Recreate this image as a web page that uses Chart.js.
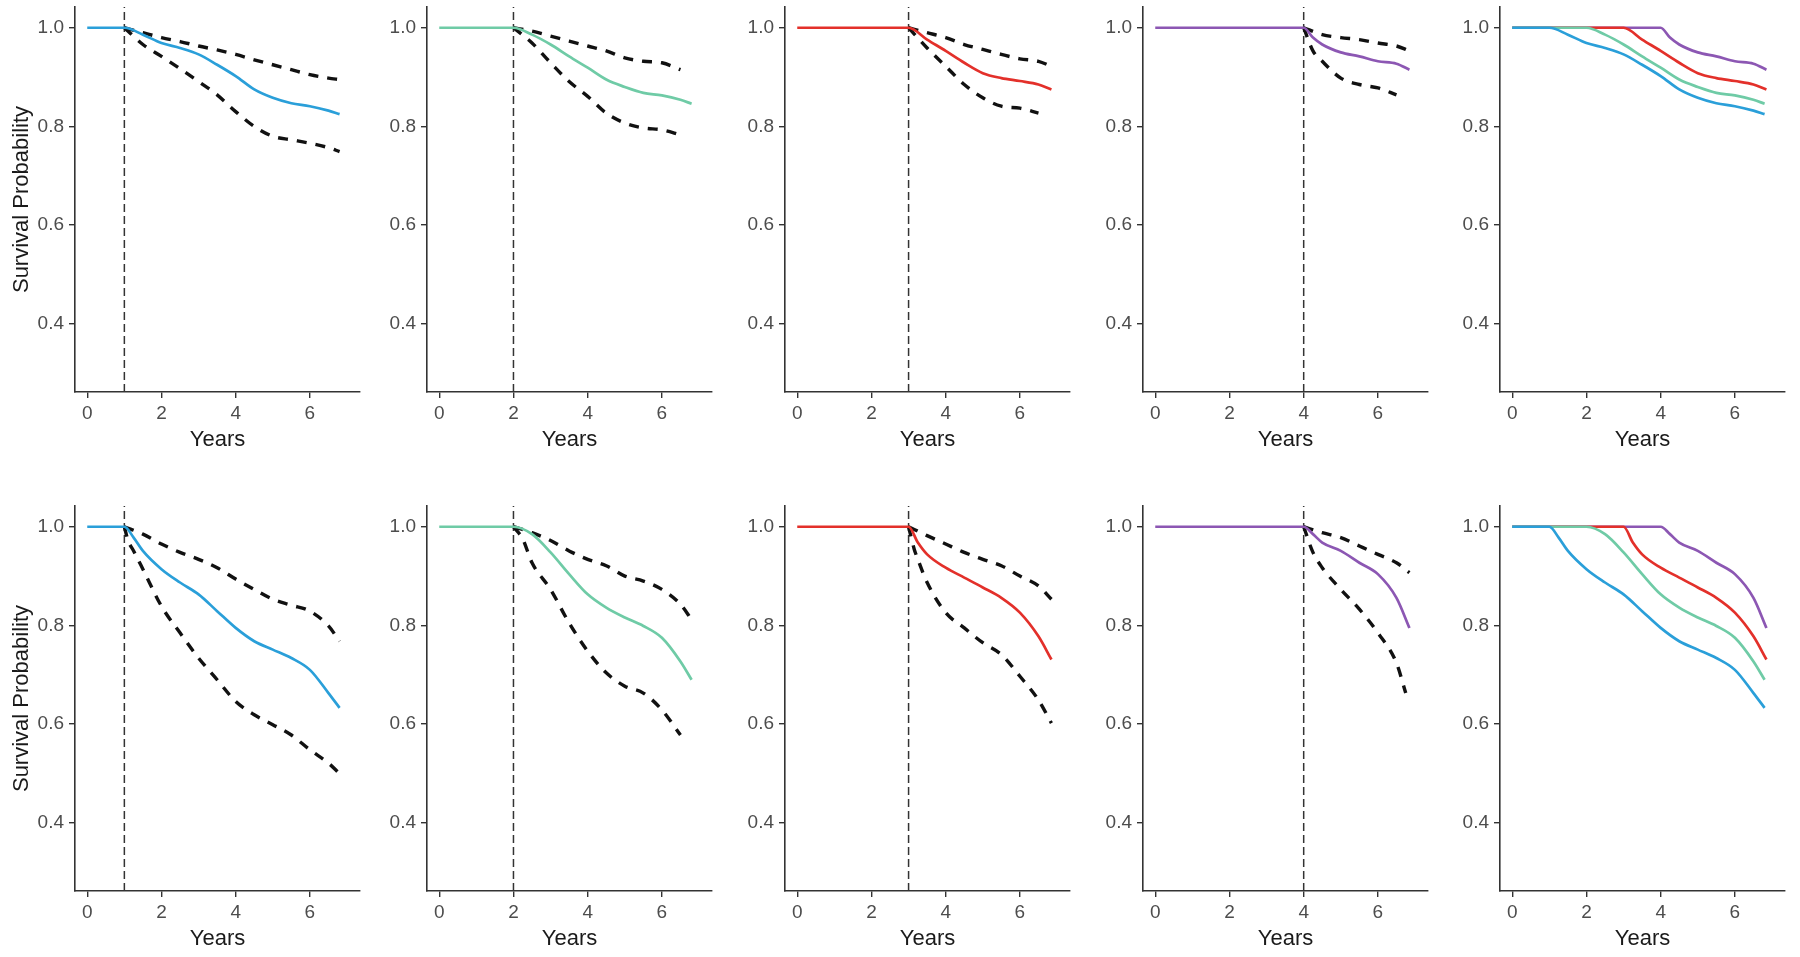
<!DOCTYPE html>
<html>
<head>
<meta charset="utf-8">
<script src="https://cdn.jsdelivr.net/npm/chart.js@4.4.1/dist/chart.umd.min.js"></script>
<style>
  body { margin: 0; background: #fff; width: 1800px; height: 957px; position: relative; overflow: hidden; }
  canvas { position: absolute; }
</style>
</head>
<body>
<script>
const xTicks = [0, 2, 4, 6]
const yTicks = [0.4, 0.6, 0.8, 1.0]
const landmarks = [1, 2, 3, 4]
const curveColors = ['#2A9FD9', '#6FCBA6', '#E3302A', '#8C57B3']

// ---- top row (landmark 1..4) ----
const topT1 = [0, 1, 1.5, 2, 2.5, 3, 3.5, 4, 4.5, 5, 5.5, 6, 6.5, 6.8]
const topS1 = [1, 1, 0.986, 0.969, 0.959, 0.946, 0.925, 0.902, 0.875, 0.858, 0.847, 0.841, 0.832, 0.825]
const topCiT1 = [1, 1.5, 2, 2.5, 3, 3.5, 4, 4.5, 5, 5.5, 6, 6.5, 6.8]
const topUp1 = [1, 0.99, 0.98, 0.972, 0.963, 0.955, 0.946, 0.935, 0.925, 0.915, 0.905, 0.898, 0.895]
const topLo1 = [1, 0.966, 0.942, 0.917, 0.891, 0.864, 0.83, 0.80, 0.78, 0.773, 0.766, 0.757, 0.749]

const topT2 = [0, 2, 2.5, 3, 3.5, 4, 4.5, 5, 5.5, 6, 6.5, 6.8]
const topS2 = [1, 1, 0.986, 0.966, 0.942, 0.919, 0.895, 0.88, 0.868, 0.863, 0.854, 0.846]
const topCiT2 = [2, 2.5, 3, 3.5, 4, 4.5, 5, 5.5, 6, 6.5]
const topUp2 = [1, 0.993, 0.983, 0.973, 0.963, 0.953, 0.939, 0.932, 0.929, 0.915]
const topLo2 = [1, 0.969, 0.929, 0.891, 0.861, 0.827, 0.807, 0.797, 0.793, 0.783]

const topT3 = [0, 3, 3.5, 4, 4.5, 5, 5.5, 6, 6.5, 6.85]
const topS3 = [1, 1, 0.976, 0.953, 0.929, 0.908, 0.898, 0.892, 0.885, 0.875]
const topUpT3 = [3, 3.5, 4, 4.5, 5, 5.5, 6, 6.5, 6.85]
const topUp3 = [1, 0.99, 0.98, 0.966, 0.956, 0.946, 0.937, 0.932, 0.922]
const topLoT3 = [3, 3.5, 4, 4.5, 5, 5.5, 6, 6.5]
const topLo3 = [1, 0.959, 0.922, 0.885, 0.858, 0.841, 0.837, 0.827]

const topT4 = [0, 4, 4.25, 4.5, 5, 5.5, 6, 6.5, 6.85]
const topS4 = [1, 1, 0.98, 0.966, 0.95, 0.942, 0.932, 0.927, 0.915]
const topUpT4 = [4, 4.5, 5, 5.5, 6, 6.5, 6.85]
const topUp4 = [1, 0.986, 0.98, 0.976, 0.969, 0.963, 0.953]
const topLoT4 = [4, 4.25, 4.5, 5, 5.5, 6, 6.5]
const topLo4 = [1, 0.953, 0.932, 0.898, 0.885, 0.878, 0.864]

// ---- bottom row ----
const botT1 = [0, 1, 1.25, 1.5, 2, 2.5, 3, 3.5, 4, 4.5, 5, 5.5, 6, 6.5, 6.8]
const botS1 = [1, 1, 0.978, 0.951, 0.914, 0.887, 0.863, 0.829, 0.795, 0.768, 0.751, 0.734, 0.71, 0.663, 0.633]
const botUpT1 = [1, 1.5, 2, 2.5, 3, 3.5, 4, 4.5, 5, 5.5, 6, 6.5, 6.8]
const botUp1 = [1, 0.985, 0.965, 0.948, 0.934, 0.917, 0.894, 0.873, 0.853, 0.841, 0.829, 0.799, 0.768]
const botLoT1 = [1, 1.1, 1.25, 1.5, 2, 2.5, 3, 3.5, 4, 4.5, 5, 5.5, 6, 6.5, 6.8]
const botLo1 = [1, 0.972, 0.951, 0.914, 0.839, 0.785, 0.734, 0.69, 0.646, 0.619, 0.599, 0.578, 0.548, 0.521, 0.50]

const botT2 = [0, 2, 2.5, 3, 3.5, 4, 4.5, 5, 5.5, 6, 6.5, 6.8]
const botS2 = [1, 1, 0.985, 0.948, 0.904, 0.863, 0.836, 0.816, 0.799, 0.775, 0.727, 0.69]
const botUpT2 = [2, 2.5, 3, 3.5, 4, 4.5, 5, 5.5, 6, 6.5, 6.8]
const botUp2 = [1, 0.988, 0.972, 0.951, 0.934, 0.921, 0.9, 0.89, 0.873, 0.843, 0.812]
const botLoT2 = [2, 2.25, 2.5, 3, 3.5, 4, 4.5, 5, 5.5, 6, 6.5]
const botLo2 = [1, 0.975, 0.927, 0.873, 0.805, 0.748, 0.704, 0.677, 0.663, 0.629, 0.578]

const botT3 = [0, 3, 3.25, 3.5, 4, 4.5, 5, 5.5, 6, 6.5, 6.85]
const botS3 = [1, 1, 0.968, 0.944, 0.917, 0.897, 0.877, 0.856, 0.826, 0.778, 0.731]
const botUpT3 = [3, 3.5, 4, 4.5, 5, 5.5, 6, 6.5, 6.85]
const botUp3 = [1, 0.982, 0.965, 0.948, 0.934, 0.921, 0.9, 0.88, 0.853]
const botLoT3 = [3, 3.15, 3.25, 3.5, 4, 4.5, 5, 5.5, 6, 6.5, 6.85]
const botLo3 = [1, 0.955, 0.934, 0.887, 0.826, 0.795, 0.765, 0.741, 0.697, 0.649, 0.602]

const botT4 = [0, 4, 4.25, 4.5, 5, 5.5, 6, 6.5, 6.85]
const botS4 = [1, 1, 0.985, 0.968, 0.951, 0.927, 0.904, 0.856, 0.795]
const botUpT4 = [4, 4.5, 5, 5.5, 6, 6.5, 6.85]
const botUp4 = [1, 0.988, 0.978, 0.961, 0.944, 0.927, 0.907]
const botLoT4 = [4, 4.25, 4.5, 5, 5.5, 6, 6.5, 6.75]
const botLo4 = [1, 0.948, 0.917, 0.873, 0.833, 0.785, 0.724, 0.663]

const X_MIN = -0.33, X_MAX = 7.35
const Y_MIN = 0.262, Y_MAX = 1.042

const panelLeft = [0, 352, 710, 1068, 1425]
const rowTop = [0, 499]

Chart.defaults.font.family = "'Liberation Sans', Arial, sans-serif"

function pts(times, vals) {
    return times.map((t, i) => ({ x: t, y: vals[i] }))
}

function survLine(times, vals, color) {
    return {
        data: pts(times, vals),
        borderColor: color,
        borderWidth: 2.7,
        pointRadius: 0,
        cubicInterpolationMode: 'monotone'
    }
}

function ciLine(times, vals) {
    return {
        data: pts(times, vals),
        borderColor: '#111',
        borderWidth: 3.4,
        borderDash: [10, 9],
        pointRadius: 0,
        cubicInterpolationMode: 'monotone'
    }
}

function makeCanvas(id, col, row) {
    const c = document.createElement('canvas')
    c.id = id
    c.width = 370
    c.height = 470
    c.style.left = panelLeft[col] + 'px'
    c.style.top = rowTop[row] + 'px'
    c.style.width = '370px'
    c.style.height = '470px'
    document.body.appendChild(c)
    return c
}

function drawPanel(canvas, datasets, cut, showYTitle) {
    if (cut !== null) {
        datasets.push({
            data: [{ x: cut, y: Y_MIN }, { x: cut, y: Y_MAX }],
            borderColor: '#333',
            borderWidth: 1.5,
            borderDash: [8, 4],
            pointRadius: 0,
            tension: 0
        })
    }
    new Chart(canvas, {
        type: 'line',
        data: { datasets: datasets },
        options: {
            responsive: false,
            animation: false,
            devicePixelRatio: 1,
            layout: { padding: { top: 7, right: 10, left: 0, bottom: 0 } },
            plugins: { legend: { display: false }, tooltip: { enabled: false } },
            scales: {
                x: {
                    type: 'linear',
                    min: X_MIN,
                    max: X_MAX,
                    afterBuildTicks: s => { s.ticks = xTicks.map(v => ({ value: v })) },
                    afterFit: s => { s.height = 78; s.paddingLeft = 0; s.paddingRight = 0 },
                    border: { display: true, color: '#333', width: 1.6 },
                    grid: { drawOnChartArea: false, drawTicks: true, tickLength: 6, color: '#333', lineWidth: 1.4 },
                    ticks: { color: '#4D4D4D', font: { size: 19 }, padding: 4, callback: v => v },
                    title: { display: true, text: 'Years', color: '#1a1a1a', font: { size: 22 }, padding: { top: 0, bottom: 17 } }
                },
                y: {
                    min: Y_MIN,
                    max: Y_MAX,
                    afterBuildTicks: s => { s.ticks = yTicks.map(v => ({ value: v })) },
                    // ticks sit well inside the range, so no label padding is needed
                    afterFit: s => { s.width = 75; s.paddingTop = 0; s.paddingBottom = 0 },
                    border: { display: true, color: '#333', width: 1.6 },
                    grid: { drawOnChartArea: false, drawTicks: true, tickLength: 6, color: '#333', lineWidth: 1.4 },
                    ticks: { color: '#4D4D4D', font: { size: 19 }, padding: 5, callback: v => v.toFixed(1) },
                    title: { display: showYTitle, text: 'Survival Probability', color: '#1a1a1a', font: { size: 22 }, padding: { top: 9, bottom: 0 } }
                }
            }
        }
    })
}

const rows = [
    {
        surv: [[topT1, topS1], [topT2, topS2], [topT3, topS3], [topT4, topS4]],
        up: [[topCiT1, topUp1], [topCiT2, topUp2], [topUpT3, topUp3], [topUpT4, topUp4]],
        lo: [[topCiT1, topLo1], [topCiT2, topLo2], [topLoT3, topLo3], [topLoT4, topLo4]]
    },
    {
        surv: [[botT1, botS1], [botT2, botS2], [botT3, botS3], [botT4, botS4]],
        up: [[botUpT1, botUp1], [botUpT2, botUp2], [botUpT3, botUp3], [botUpT4, botUp4]],
        lo: [[botLoT1, botLo1], [botLoT2, botLo2], [botLoT3, botLo3], [botLoT4, botLo4]]
    }
]

rows.forEach((r, row) => {
    // one panel per landmark with its confidence band
    landmarks.forEach((lm, i) => {
        const cv = makeCanvas('panel_' + row + '_' + i, i, row)
        const ds = [
            survLine(r.surv[i][0], r.surv[i][1], curveColors[i]),
            ciLine(r.up[i][0], r.up[i][1]),
            ciLine(r.lo[i][0], r.lo[i][1])
        ]
        drawPanel(cv, ds, lm, i === 0)
    })
    // last panel: all four curves together
    const cv = makeCanvas('panel_' + row + '_all', 4, row)
    const ds = landmarks.map((lm, i) => survLine(r.surv[i][0], r.surv[i][1], curveColors[i]))
    drawPanel(cv, ds, null, false)
})
</script>
</body>
</html>
